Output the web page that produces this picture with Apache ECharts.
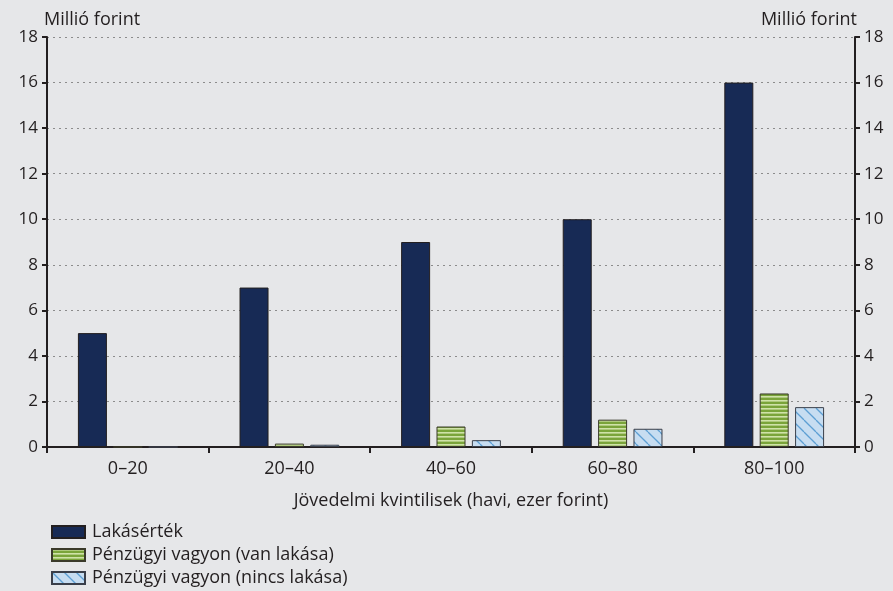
<!DOCTYPE html>
<html>
<head>
<meta charset="utf-8">
<script src="https://cdn.jsdelivr.net/npm/echarts@6/dist/echarts.min.js"></script>
<style>
html, body { margin: 0; padding: 0; background: #e6e7e9; }
#chart { width: 893px; height: 591px; }
</style>
</head>
<body>
<div id="chart"></div>
<script>
const categories = ['0–20', '20–40', '40–60', '60–80', '80–100']
const lakasertek = [5, 7, 9, 10, 16]
const vanLakasa = [0, 0.15, 0.9, 1.2, 2.35]
const nincsLakasa = [0, 0.1, 0.3, 0.8, 1.75]
const seriesNames = ['Lakásérték', 'Pénzügyi vagyon (van lakása)', 'Pénzügyi vagyon (nincs lakása)']

// vízszintes csíkos minta
const makeStripes = () => {
    const c = document.createElement('canvas')
    c.width = 4; c.height = 4
    const ctx = c.getContext('2d')
    ctx.fillStyle = '#7aa43a'
    ctx.fillRect(0, 0, 4, 4)
    ctx.fillStyle = '#cfe2a8'
    ctx.fillRect(0, 0, 4, 1.6)
    return c
}

// ferde vonalas minta
const makeDiag = () => {
    const s = 12
    const c = document.createElement('canvas')
    c.width = s; c.height = s
    const ctx = c.getContext('2d')
    ctx.fillStyle = '#c7ddf1'
    ctx.fillRect(0, 0, s, s)
    ctx.strokeStyle = '#5d9fd3'
    ctx.lineWidth = 1.3
    for (let k = -1; k <= 1; k++) {
        ctx.beginPath()
        ctx.moveTo(k * s, 0)
        ctx.lineTo(k * s + s, s)
        ctx.stroke()
    }
    return c
}

const font = '"Open Sans", "Noto Sans", sans-serif'
const txt = '#231f20'

const yAxisBase = {
    type: 'value',
    min: 0,
    max: 18,
    interval: 2,
    axisLine: { show: true, lineStyle: { color: txt, width: 2 } },
    axisTick: { show: true, length: 5, lineStyle: { color: txt, width: 2 } },
    axisLabel: { color: txt, fontSize: 17, fontFamily: font, margin: 9 },
    nameTextStyle: { color: txt, fontSize: 18, fontFamily: font }
}

// jelmagyarázat: egy sor = egy legend
const legendRow = (name, top) => ({
    orient: 'vertical',
    left: 46,
    top: top,
    itemWidth: 33,
    itemHeight: 12,
    icon: 'rect',
    textStyle: { color: txt, fontSize: 18, fontFamily: font, padding: [0, 0, 0, 2] },
    data: [name]
})

const myChart = echarts.init(document.getElementById('chart'))
myChart.setOption({
    backgroundColor: '#e6e7e9',
    animation: false,
    grid: { left: 47, right: 38, top: 37, bottom: 144 },
    legend: [
        legendRow(seriesNames[0], 518),
        legendRow(seriesNames[1], 541),
        legendRow(seriesNames[2], 564)
    ],
    xAxis: {
        type: 'category',
        data: categories,
        name: 'Jövedelmi kvintilisek (havi, ezer forint)',
        nameLocation: 'middle',
        nameGap: 45,
        nameTextStyle: { color: txt, fontSize: 18, fontFamily: font },
        axisLine: { lineStyle: { color: txt, width: 2 } },
        axisTick: { show: true, length: 6, lineStyle: { color: txt, width: 2 } },
        axisLabel: { color: txt, fontSize: 18, fontFamily: font, margin: 13 }
    },
    yAxis: [
        Object.assign({}, yAxisBase, {
            position: 'left',
            name: 'Millió forint',
            nameGap: 8,
            nameTextStyle: { color: txt, fontSize: 18, fontFamily: font, align: 'left', padding: [0, 0, 0, -3] },
            splitLine: { show: true, lineStyle: { color: '#8c8c8c', type: [2, 4], width: 1 } }
        }),
        Object.assign({}, yAxisBase, {
            position: 'right',
            name: 'Millió forint',
            nameGap: 8,
            nameTextStyle: { color: txt, fontSize: 18, fontFamily: font, align: 'right', padding: [0, -2, 0, 0] },
            splitLine: { show: false }
        })
    ],
    series: [{
        name: seriesNames[0],
        type: 'bar',
        data: lakasertek,
        barWidth: 29,
        barGap: '22%',
        itemStyle: { color: '#172a55', borderColor: '#231f20', borderWidth: 1 }
    }, {
        name: seriesNames[1],
        type: 'bar',
        data: vanLakasa,
        barWidth: 29,
        barGap: '22%',
        itemStyle: { color: { image: makeStripes(), repeat: 'repeat' }, borderColor: '#3a3a2a', borderWidth: 1 }
    }, {
        name: seriesNames[2],
        type: 'bar',
        data: nincsLakasa,
        barWidth: 29,
        barGap: '22%',
        itemStyle: { color: { image: makeDiag(), repeat: 'repeat' }, borderColor: '#3a3f4a', borderWidth: 1 }
    }]
})
</script>
</body>
</html>
